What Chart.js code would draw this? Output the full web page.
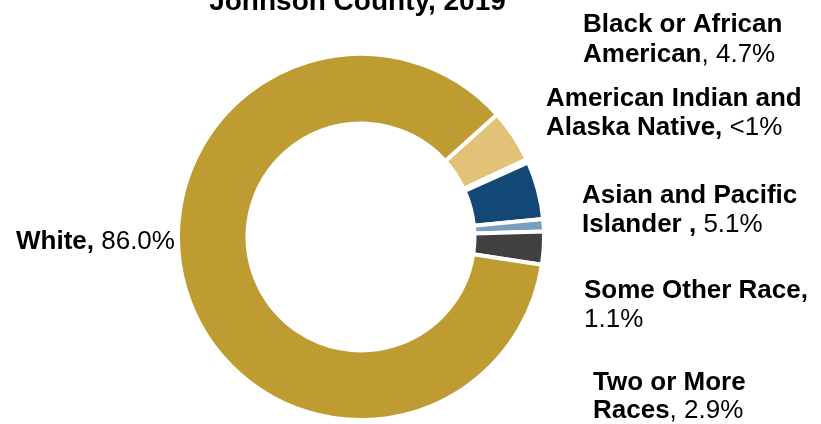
<!DOCTYPE html>
<html>
<head>
<meta charset="utf-8">
<script src="https://cdn.jsdelivr.net/npm/chart.js"></script>
<style>
  html, body { margin: 0; padding: 0; background: #fff; }
  #wrap { width: 821px; height: 424px; }
</style>
</head>
<body>
<div id="wrap"><canvas id="c" width="821" height="424"></canvas></div>
<script>
// race / ethnicity shares, Johnson County 2019 (percent)
const categories = ['Black or African American', 'American Indian and Alaska Native', 'Asian and Pacific Islander', 'Some Other Race', 'Two or More Races', 'White'];
const shares = [4.7, 0.3, 5.1, 1.1, 2.9, 86.0];
const shareLabels = ['4.7%', '<1%', '5.1%', '1.1%', '2.9%', '86.0%'];
const colors = ['#E2C277', '#A6A6A6', '#134775', '#7A9EBF', '#404041', '#BF9C32'];

// callout text: bold lines, the last bold piece is followed by the value in regular weight
const calloutNames = [
  ['Black or African', 'American'],
  ['American Indian and', 'Alaska Native,'],
  ['Asian and Pacific', 'Islander ,'],
  ['Some Other Race,', ''],
  ['Two or More', 'Races'],
  ['White,']
];
const calloutSep = [', ', ' ', ' ', '', ', ', ' '];

// where each callout sits (left x, first baseline, line step)
const calloutPos = [
  { x: 583, y: 32, step: 30 },
  { x: 546, y: 106, step: 29 },
  { x: 582, y: 203, step: 29 },
  { x: 584, y: 298, step: 29 },
  { x: 593, y: 390, step: 28 },
  { x: 16, y: 249, step: 0 }
];

const FONT = '"Liberation Sans", Arial, sans-serif';

const callouts = {
  id: 'callouts',
  afterDraw(chart) {
    const ctx = chart.ctx;
    ctx.save();
    ctx.fillStyle = '#000';
    ctx.textBaseline = 'alphabetic';

    // title (top half is cut off by the frame)
    ctx.font = 'bold 28px ' + FONT;
    ctx.textAlign = 'center';
    ctx.fillText('Johnson County, 2019', 357.5, 10);
    ctx.textAlign = 'left';

    calloutNames.forEach((lines, i) => {
      const p = calloutPos[i];
      lines.forEach((ln, j) => {
        const y = p.y + j * p.step;
        ctx.font = 'bold 26px ' + FONT;
        ctx.fillText(ln, p.x, y);
        if (j === lines.length - 1) {
          const w = ctx.measureText(ln).width;
          ctx.font = '26px ' + FONT;
          ctx.fillText(calloutSep[i] + shareLabels[i], p.x + w, y);
        }
      });
    });
    ctx.restore();
  }
};

new Chart(document.getElementById('c'), {
  type: 'doughnut',
  data: {
    labels: categories,
    datasets: [{
      data: shares,
      backgroundColor: colors,
      borderColor: '#fff',
      borderWidth: 4
    }]
  },
  options: {
    responsive: false,
    animation: false,
    rotation: 48,
    cutout: '62%',
    layout: { padding: { left: 176, right: 275, top: 52, bottom: 2 } },
    plugins: {
      legend: { display: false },
      title: { display: false },
      tooltip: { enabled: false }
    }
  },
  plugins: [callouts]
});
</script>
</body>
</html>
